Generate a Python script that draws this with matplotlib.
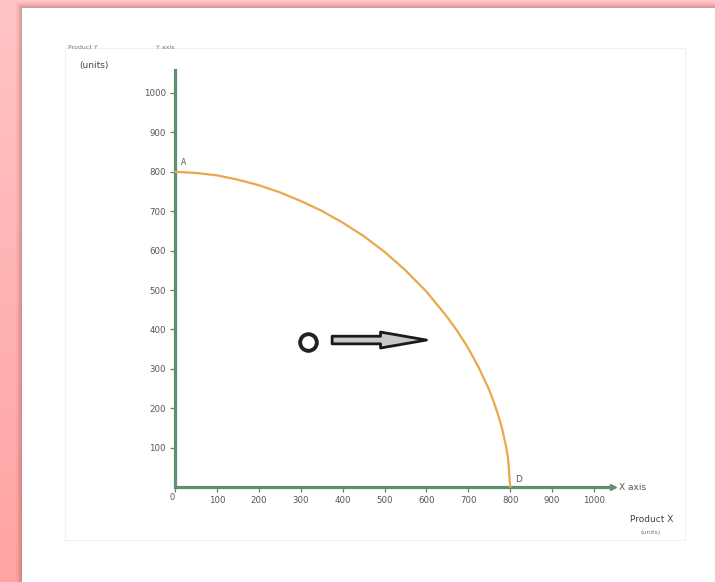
import numpy as np
import matplotlib
matplotlib.use("Agg")
import matplotlib.pyplot as plt
from matplotlib.patches import Rectangle

# production possibilities frontier
good_x = [0, 50, 100, 150, 200, 250, 300, 350, 400, 450, 500, 550, 600,
          650, 675, 700, 725, 750, 760, 770, 780, 790, 795, 800]
good_y = [800, 797, 791, 780, 766, 748, 726, 701, 671, 637, 597, 550, 496,
          431, 394, 352, 303, 246, 218, 187, 151, 104, 72, 0]

x_ticks = [0, 100, 200, 300, 400, 500, 600, 700, 800, 900, 1000]
y_ticks = [100, 200, 300, 400, 500, 600, 700, 800, 900, 1000]

W, H = 715, 582
fig = plt.figure(figsize=(W / 100, H / 100), dpi=100)

# pink slide background with a gradient
bg = fig.add_axes([0, 0, 1, 1])
grad = np.linspace(0, 1, 256).reshape(-1, 1)
bg.imshow(grad, aspect="auto", extent=[0, 1, 0, 1], origin="upper",
          cmap=matplotlib.colors.LinearSegmentedColormap.from_list(
              "pk", ["#ffc4c4", "#ffa3a3"]))
bg.set_xlim(0, 1)
bg.set_ylim(0, 1)
bg.axis("off")

# white card with soft shadow
cx0, cy0 = 22 / W, 0
for i, a in enumerate([0.05, 0.07, 0.09, 0.12]):
    off = (4 - i) * 1.5
    bg.add_patch(Rectangle((cx0 - off / W, cy0), 1, (574 + off) / H,
                           facecolor="#803030", alpha=a, lw=0))
bg.add_patch(Rectangle((cx0, cy0), 1, 574 / H, facecolor="white", lw=0))
# faint frame of the picture
bg.add_patch(Rectangle((65 / W, (H - 540) / H), 620 / W, 492 / H,
                       facecolor="none", edgecolor="#f0f0f0", lw=0.8))

ox, oy = 175, 487
sx, sy = 0.419, 0.394
xmax, ymax = 1045, 1058
ax = fig.add_axes([ox / W, (H - oy) / H, xmax * sx / W, ymax * sy / H])
ax.patch.set_alpha(0)
ax.set_xlim(0, xmax)
ax.set_ylim(0, ymax)

green = "#5e8f6e"
for s in ["top", "right"]:
    ax.spines[s].set_visible(False)
for s in ["left", "bottom"]:
    ax.spines[s].set_color(green)
    ax.spines[s].set_linewidth(2.3)
    ax.spines[s].set_zorder(2)

ax.plot(good_x, good_y, color="#e9a84c", lw=1.6, solid_capstyle="round",
        zorder=3, clip_on=False)

ax.set_xticks(x_ticks)
ax.set_xticklabels([""] + [str(v) for v in x_ticks[1:]])
ax.set_yticks(y_ticks)
ax.tick_params(axis="both", direction="out", length=3.5, width=0.9,
               colors="#777777", labelsize=6.2, labelcolor="#555555", pad=3)

# x-axis arrow head
ax.plot([xmax], [0], marker=">", color=green, markersize=5, clip_on=False,
        zorder=4)

gray = "#555555"
ax.text(-8, -14, "0", fontsize=6, color=gray, ha="center", va="top")
ax.text(14, 812, "A", fontsize=5.5, color=gray, ha="left", va="bottom")
ax.text(812, 8, "D", fontsize=6.5, color=gray, ha="left", va="bottom")
ax.text(xmax + 15, 0, "X axis", fontsize=6.5, color=gray, ha="left",
        va="center", clip_on=False)
ax.text(1085, -82, "Product X", fontsize=6.5, color="#444444", ha="left",
        va="center", clip_on=False)
ax.text(1110, -115, "(units)", fontsize=4.5, color="#777777", ha="left",
        va="center", clip_on=False)
ax.text(-255, 1115, "Product Y", fontsize=4.5, color="#777777", ha="left",
        va="center", clip_on=False)
ax.text(-45, 1115, "Y axis", fontsize=4.5, color="#777777", ha="left",
        va="center", clip_on=False)
ax.text(-228, 1070, "(units)", fontsize=6.5, color="#444444", ha="left",
        va="center", clip_on=False)

# shift symbol: circle and hollow arrow
ax.plot([317], [368], marker="o", markersize=12, mfc="none", mec="#222222",
        mew=2.8, zorder=5)
ax.annotate("", xy=(600, 373), xytext=(375, 373),
            arrowprops=dict(arrowstyle="simple,head_length=3.3,head_width=1.15,"
                                       "tail_width=0.55",
                            mutation_scale=10, fc="#c8c8c8", ec="#1a1a1a",
                            lw=2.0, shrinkA=0, shrinkB=0))

fig.savefig("out.png", dpi=100)
